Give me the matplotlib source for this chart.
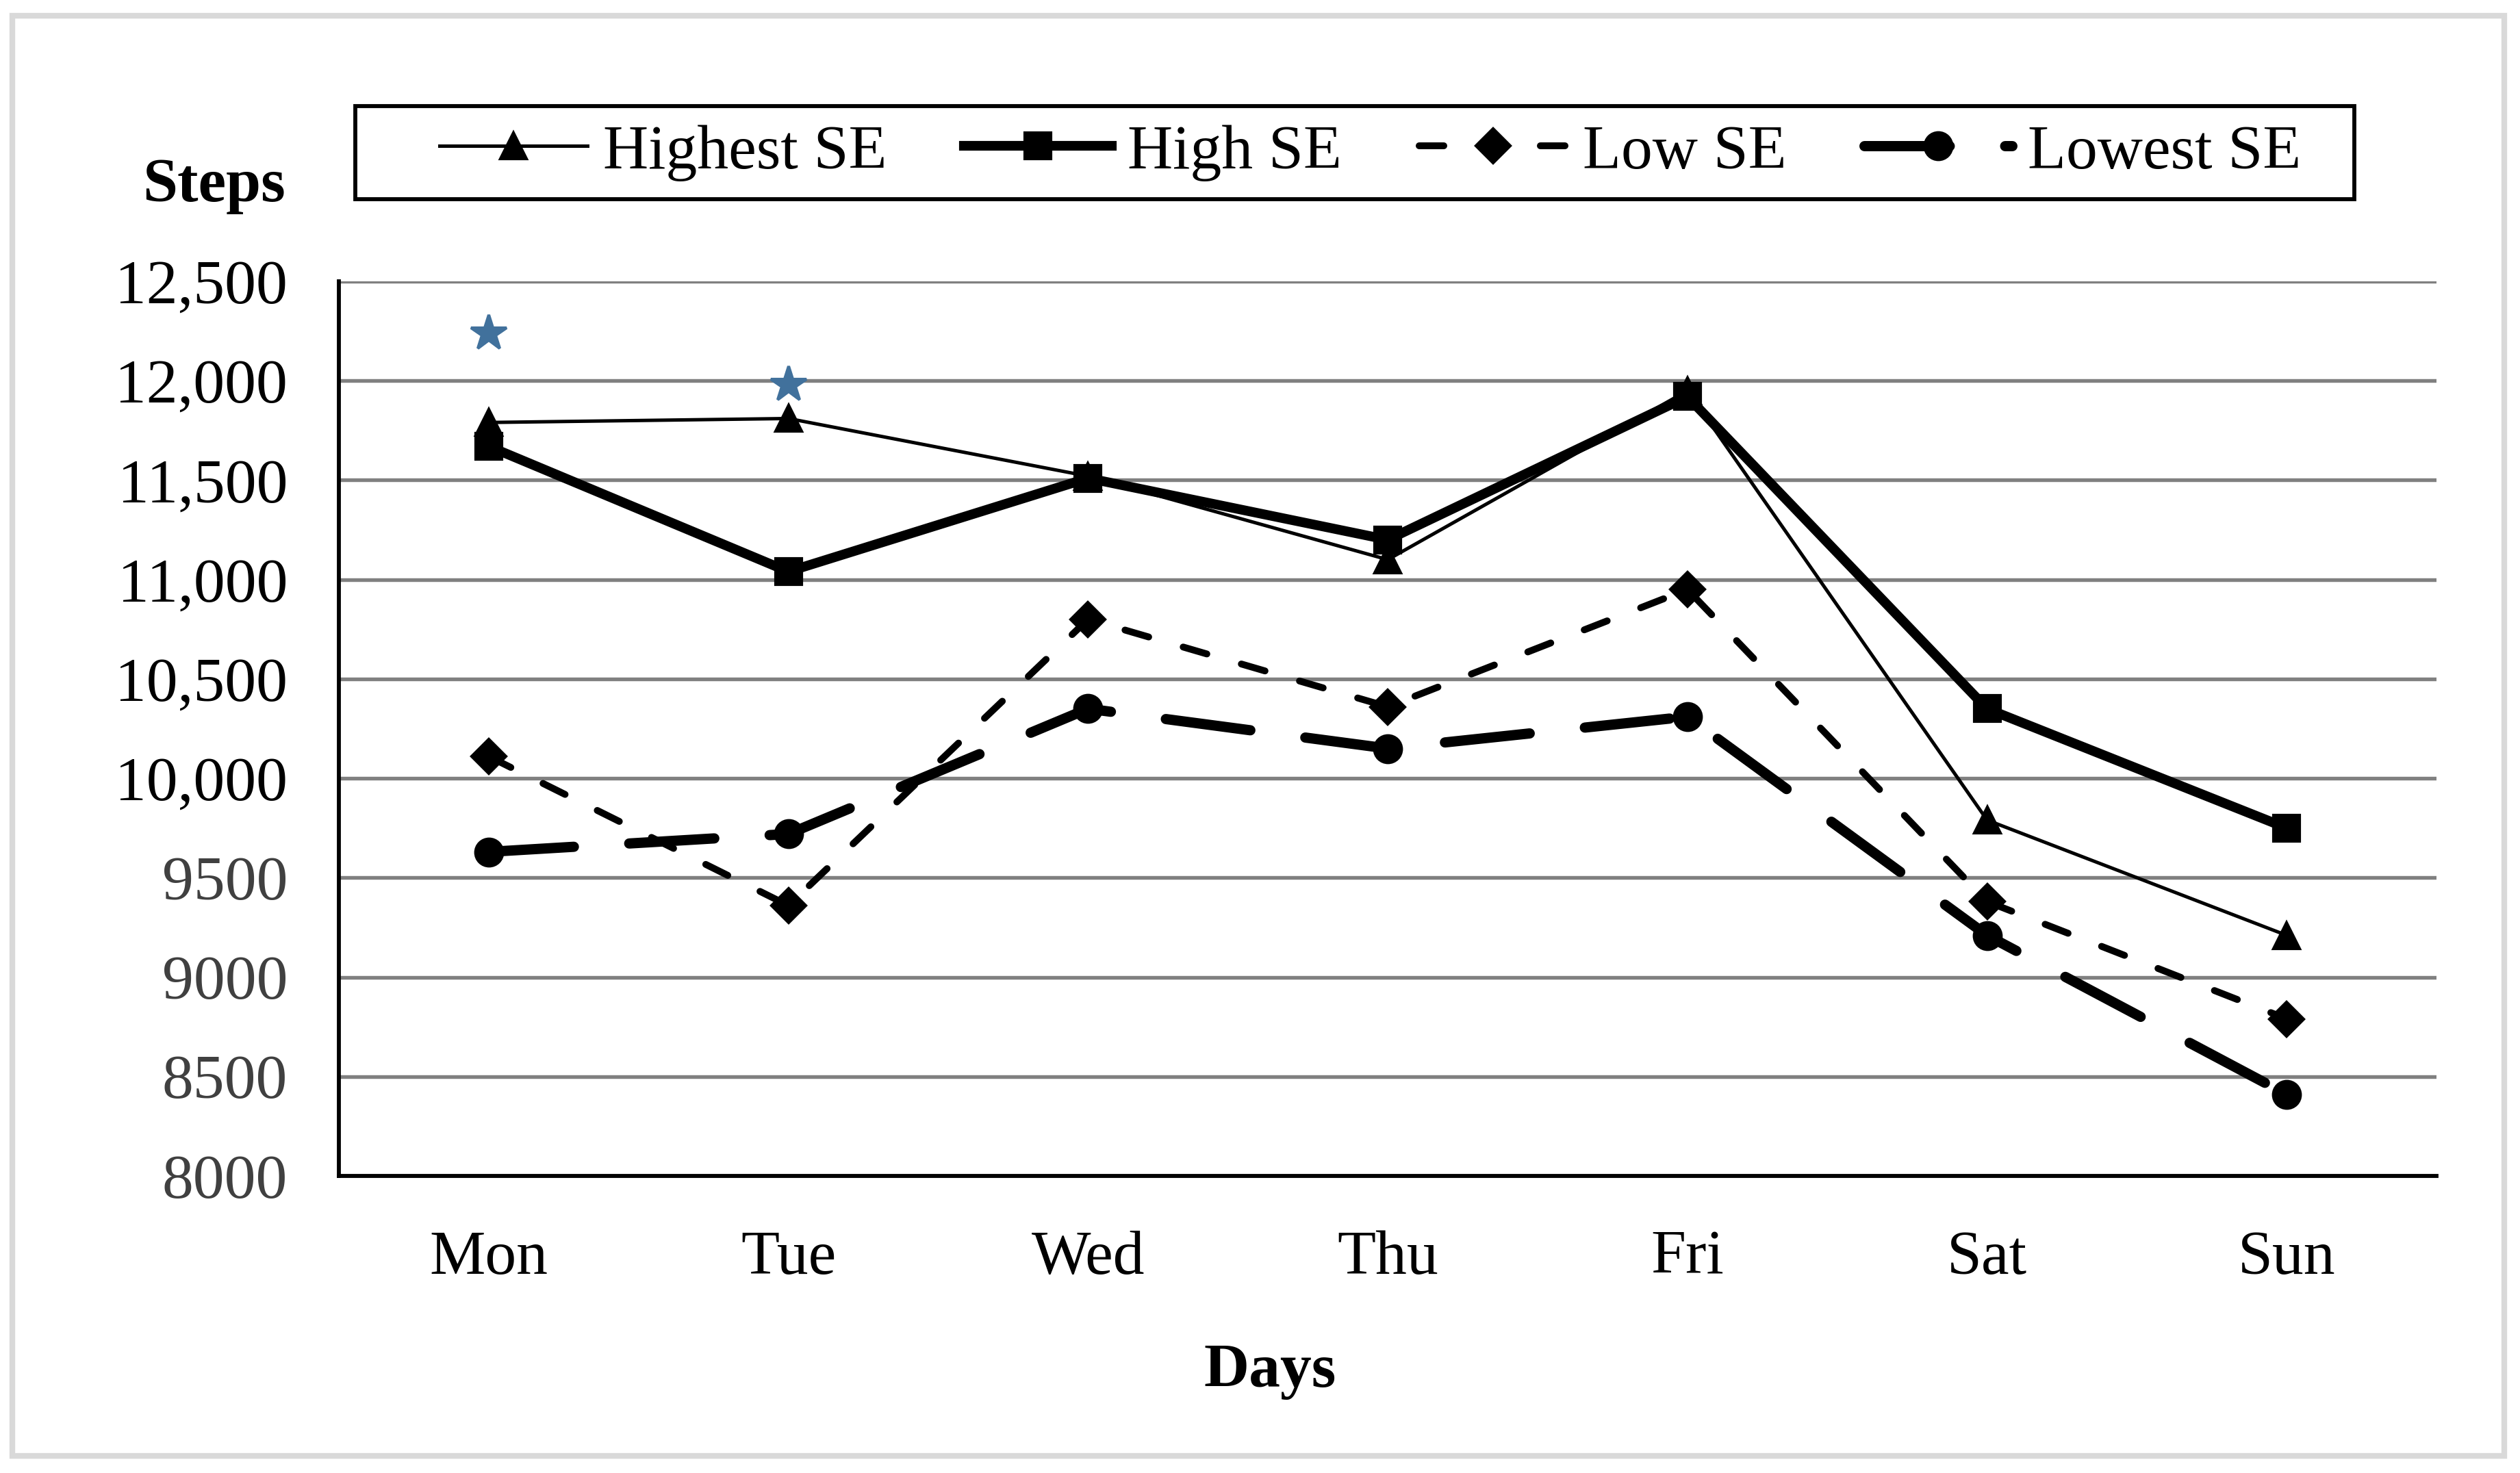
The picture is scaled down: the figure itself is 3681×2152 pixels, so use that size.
import numpy as np
import matplotlib
matplotlib.use("Agg")
import matplotlib.pyplot as plt
from matplotlib.patches import Rectangle

plt.rcParams['font.family'] = ['Liberation Serif', 'DejaVu Serif']

# data
days = ['Mon', 'Tue', 'Wed', 'Thu', 'Fri', 'Sat', 'Sun']
highest_se = [11790, 11810, 11520, 11100, 11950, 9790, 9210]
high_se = [11670, 11040, 11510, 11200, 11920, 10350, 9750]
low_se = [10110, 9360, 10800, 10360, 10950, 9380, 8790]
lowest_se = [9630, 9720, 10350, 10150, 10310, 9210, 8410]

# significance stars
star_days = ['Mon', 'Tue']
star_values = [12240, 11980]

ytick_values = [8000, 8500, 9000, 9500, 10000, 10500, 11000, 11500, 12000, 12500]
ytick_labels = ['8000', '8500', '9000', '9500', '10,000', '10,500',
                '11,000', '11,500', '12,000', '12,500']

W, H, DPI = 3681, 2152, 300
fig = plt.figure(figsize=(W / DPI, H / DPI), dpi=DPI)
ax = fig.add_axes([0.1345, 0.2017, 0.8324, 0.6073])

x = np.arange(len(days))

ax.plot(x, highest_se, color='black', lw=1.2, marker='^', ms=9,
        label='Highest SE', zorder=3)
ax.plot(x, high_se, color='black', lw=3.4, marker='s', ms=9,
        label='High SE', zorder=3)
ax.plot(x, low_se, color='black', lw=2.4, marker='D', ms=8.5,
        dashes=(3.6, 5.25), dash_capstyle='round', label='Low SE', zorder=3)
ax.plot(x, lowest_se, color='black', lw=3.6, marker='o', ms=9.5,
        dashes=(8.3, 5.4), dash_capstyle='round', label='Lowest SE', zorder=3)

star_x = [days.index(d) for d in star_days]
ax.plot(star_x, star_values, linestyle='none', marker='*', ms=13,
        color='#41719C', zorder=4)

ax.set_xlim(-0.5, len(days) - 0.5)
ax.set_ylim(8000, 12500)
ax.set_xticks(x)
ax.set_xticklabels(days, fontsize=22)
ax.set_yticks(ytick_values)
ax.set_yticklabels(ytick_labels, fontsize=22)
for lab, v in zip(ax.get_yticklabels(), ytick_values):
    lab.set_color('black' if v >= 10000 else '#404040')

ax.tick_params(axis='both', length=0)
ax.tick_params(axis='y', pad=18)
ax.tick_params(axis='x', pad=19)

ax.yaxis.grid(True, color='#808080', lw=1.3)
ax.set_axisbelow(True)
for side in ['top', 'right']:
    ax.spines[side].set_visible(False)
for side in ['left', 'bottom']:
    ax.spines[side].set_linewidth(1.4)
    ax.spines[side].set_color('black')

# axis titles
fig.text(0.0848, 0.8737, 'Steps', fontsize=22, fontweight='bold',
         ha='center', va='center')
fig.text(0.504, 0.0686, 'Days', fontsize=22, fontweight='bold',
         ha='center', va='center')

# legend + its box
leg = fig.legend(loc='center', bbox_to_anchor=(0.5437, 0.8964),
                 bbox_transform=fig.transFigure, ncol=4, frameon=False,
                 fontsize=22, handlelength=2.36, handletextpad=0.25,
                 columnspacing=1.23)
fig.patches.append(Rectangle((0.141, 0.8648), 0.7933, 0.0632,
                             transform=fig.transFigure, fill=False,
                             edgecolor='black', lw=1.4))

# outer frame
fig.patches.append(Rectangle((0.0049, 0.0116), 0.9889, 0.9777,
                             transform=fig.transFigure, fill=False,
                             edgecolor='#D9D9D9', lw=2.0))

fig.savefig('out.png', dpi=DPI)
